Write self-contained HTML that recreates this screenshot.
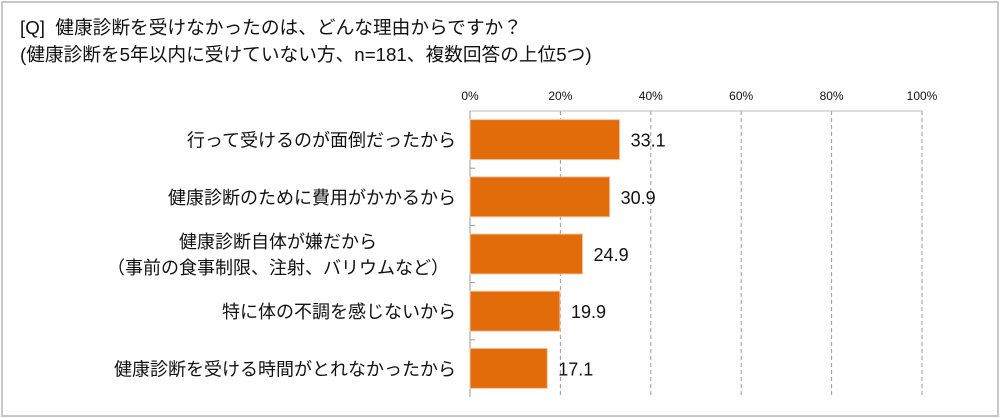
<!DOCTYPE html>
<html><head><meta charset="utf-8">
<style>
body{margin:0;background:#fff;}
#wrap{position:relative;width:1000px;height:418px;overflow:hidden;font-family:"Liberation Sans","Noto Sans CJK JP",sans-serif;}
#frame{position:absolute;left:1px;top:1px;width:994px;height:412px;border:2px solid #c8c8c8;}
.t{position:absolute;left:20px;font-size:18.7px;color:#111;white-space:nowrap;}
svg{position:absolute;left:0;top:0;}
</style></head><body>
<div id="wrap">
<div id="frame"></div>
<div class="t" style="top:13px">[Q]&nbsp; 健康診断を受けなかったのは、どんな理由からですか？</div>
<div class="t" style="top:40px">(健康診断を5年以内に受けていない方、n=181、複数回答の上位5つ)</div>
<svg id="chart" width="1000" height="418"></svg>
</div>
<script>
const categories=[["行って受けるのが面倒だったから"],["健康診断のために費用がかかるから"],["健康診断自体が嫌だから","（事前の食事制限、注射、バリウムなど）"],["特に体の不調を感じないから"],["健康診断を受ける時間がとれなかったから"]];
const values=[33.1,30.9,24.9,19.9,17.1];
const ticks=[0,20,40,60,80,100];
const tickLabels=["0%","20%","40%","60%","80%","100%"];
const NS="http://www.w3.org/2000/svg";
const svg=document.getElementById('chart');
const X0=470,X1=922,Y0=111,Y1=397;
const x=v=>X0+(v/100)*(X1-X0);
const band=(Y1-Y0)/categories.length;
const y=i=>Y0+i*band;
function mk(t,a){const e=document.createElementNS(NS,t);for(const k in a)e.setAttribute(k,a[k]);svg.appendChild(e);return e;}
ticks.forEach((t,i)=>{
  if(i>0){const g=mk('line',{x1:x(t),x2:x(t),y1:Y0,y2:Y1,stroke:'#999','stroke-dasharray':'4,3','stroke-width':1});
  
  }
  const tl=mk('text',{x:x(t),y:100,'text-anchor':'middle','font-size':12,fill:'#111'});
  tl.textContent=tickLabels[i];
  
  
});
const topBorder=mk('line',{x1:X0,x2:X1,y1:Y0,y2:Y0,stroke:'#bbb','stroke-width':1});


const ax=mk('line',{x1:X0,x2:X0,y1:Y0,y2:Y1,stroke:'#999','stroke-width':1});


categories.forEach((c,i)=>{
  const yc=y(i)+band/2;
  const b=mk('rect',{x:X0,y:yc-20,width:x(values[i])-X0,height:40,fill:'#e36c0a',stroke:'#f0c8a8','stroke-width':1});
  
  
  const v=mk('text',{x:x(values[i])+11,y:yc+7,'font-size':18,fill:'#111'});
  v.textContent=values[i].toFixed(1);
  
  
  c.forEach((line,j)=>{
    const off=(j-(c.length-1)/2)*26;
    const multi=c.length>1;
    const t=mk('text',{x:multi?278:456,y:yc+7+off,'text-anchor':multi?'middle':'end','font-size':18,fill:'#111'});
    t.textContent=line;
    
    
  });
  if(i>0){const tk=mk('line',{x1:X0,x2:X0+5,y1:y(i),y2:y(i),stroke:'#999'});
  
  }
});
</script>
</body></html>
